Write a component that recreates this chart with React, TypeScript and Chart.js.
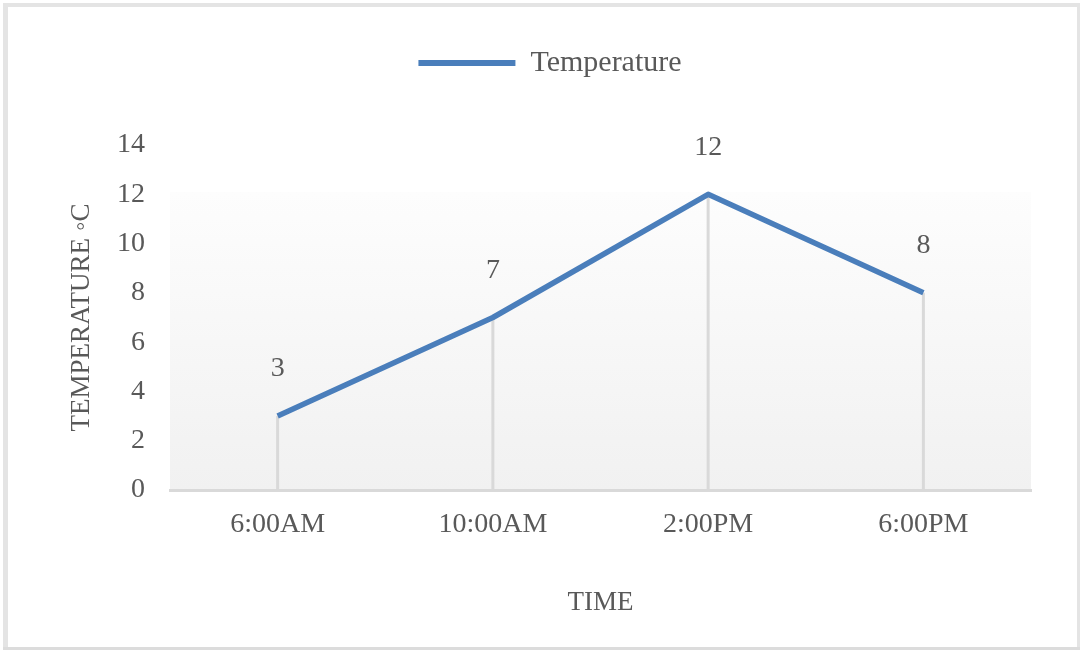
import React, { useEffect, useRef } from "react";
import { Chart, registerables } from "chart.js";

Chart.register(...registerables);

const categories = ["6:00AM", "10:00AM", "2:00PM", "6:00PM"];
const temperatures = [3, 7, 12, 8];
const seriesName = "Temperature";
const yTickValues = [0, 2, 4, 6, 8, 10, 12, 14];
const xTitle = "TIME";
const yTitle = "TEMPERATURE ◦C";

const BLUE = "#4a7ebb";
const TEXT = "#595959";
const FONT = "'Liberation Serif', 'Times New Roman', serif";

export default function App() {
  const ref = useRef<HTMLCanvasElement>(null);

  useEffect(() => {
    const canvas = ref.current;
    if (!canvas) return;

    const framePlugin = {
      id: "frame",
      beforeDraw(chart: any) {
        const { ctx, width, height, chartArea: a } = chart;
        ctx.save();
        ctx.fillStyle = "#ffffff";
        ctx.fillRect(0, 0, width, height);
        const top = a.top + (a.bottom - a.top) * 0.136;
        const g = ctx.createLinearGradient(0, top, 0, a.bottom);
        g.addColorStop(0, "#fdfdfd");
        g.addColorStop(1, "#f1f1f1");
        ctx.fillStyle = g;
        ctx.fillRect(a.left, top, a.right - a.left, a.bottom - top);
        // outer frame
        ctx.fillStyle = "#e4e4e4";
        ctx.fillRect(3, 3, 5, height - 3);
        ctx.fillRect(3, 3, width - 3, 4);
        ctx.fillRect(width - 3, 3, 3, height - 3);
        ctx.fillStyle = "#dcdcdc";
        ctx.fillRect(3, height - 3, width - 3, 3);
        ctx.restore();
      },
      beforeDatasetsDraw(chart: any) {
        const { ctx, chartArea: a } = chart;
        const meta = chart.getDatasetMeta(0);
        ctx.save();
        ctx.strokeStyle = "#d9d9d9";
        ctx.lineWidth = 3;
        meta.data.forEach((el: any) => {
          ctx.beginPath();
          ctx.moveTo(el.x, el.y);
          ctx.lineTo(el.x, a.bottom);
          ctx.stroke();
        });
        ctx.restore();
      },
      afterDatasetsDraw(chart: any) {
        const { ctx } = chart;
        const meta = chart.getDatasetMeta(0);
        const values = chart.data.datasets[0].data;
        ctx.save();
        ctx.fillStyle = TEXT;
        ctx.font = `28px ${FONT}`;
        ctx.textAlign = "center";
        ctx.textBaseline = "middle";
        meta.data.forEach((el: any, i: number) => {
          ctx.fillText(String(values[i]), el.x, el.y - 47);
        });
        ctx.restore();
      },
    };

    const chart = new Chart(canvas, {
      type: "line",
      data: {
        labels: categories,
        datasets: [
          {
            label: seriesName,
            data: temperatures,
            borderColor: BLUE,
            backgroundColor: BLUE,
            borderWidth: 5.5,
            borderJoinStyle: "round",
            borderCapStyle: "butt",
            pointRadius: 0,
            pointHoverRadius: 0,
            tension: 0,
            fill: false,
            xAxisID: "x",
            yAxisID: "y",
          },
        ],
      },
      options: {
        responsive: false,
        animation: false,
        events: [],
        layout: { padding: { top: 38, left: 20, right: 0, bottom: 0 } },
        plugins: {
          tooltip: { enabled: false },
          legend: {
            display: true,
            position: "top",
            labels: {
              color: TEXT,
              font: { family: FONT, size: 30 },
              boxWidth: 97,
              boxHeight: 6,
              padding: 10,
              generateLabels: (chart: any) =>
                Chart.defaults.plugins.legend.labels
                  .generateLabels(chart)
                  .map((l: any) => ({ ...l, lineWidth: 0, fillStyle: BLUE })),
            },
          },
        },
        scales: {
          x: {
            type: "category",
            position: "bottom",
            offset: true,
            grid: { display: false, drawTicks: false },
            border: { display: true, color: "#d9d9d9", width: 3 },
            ticks: {
              color: TEXT,
              font: { family: FONT, size: 28 },
              padding: 18,
              maxRotation: 0,
              autoSkip: false,
            },
            title: {
              display: true,
              text: xTitle,
              color: TEXT,
              font: { family: FONT, size: 27 },
              padding: { top: 0, bottom: 31 },
            },
            afterFit: (s: any) => {
              s.height = 160;
            },
          },
          y: {
            type: "linear",
            position: "left",
            min: 0,
            max: 14,
            grid: { display: false, drawTicks: false },
            border: { display: false },
            ticks: {
              color: TEXT,
              font: { family: FONT, size: 28 },
              padding: 25,
              stepSize: 2,
            },
            afterBuildTicks: (s: any) => {
              s.ticks = yTickValues.map((v) => ({ value: v }));
            },
            title: {
              display: true,
              text: yTitle,
              color: TEXT,
              font: { family: FONT, size: 27 },
              padding: { top: 46, bottom: 0 },
            },
            afterFit: (s: any) => {
              s.width = 150;
            },
          },
          xTop: {
            type: "category",
            position: "top",
            grid: { display: false, drawTicks: false },
            border: { display: false },
            ticks: { display: false },
            afterFit: (s: any) => {
              s.height = 57;
            },
          },
          yRight: {
            type: "linear",
            position: "right",
            grid: { display: false, drawTicks: false },
            border: { display: false },
            ticks: { display: false },
            afterFit: (s: any) => {
              s.width = 49;
            },
          },
        },
      },
      plugins: [framePlugin],
    } as any);

    return () => chart.destroy();
  }, []);

  return (
    <div style={{ position: "fixed", left: 0, top: 0, width: 1080, height: 650 }}>
      <canvas ref={ref} width={1080} height={650} style={{ width: 1080, height: 650, display: "block" }} />
    </div>
  );
}
